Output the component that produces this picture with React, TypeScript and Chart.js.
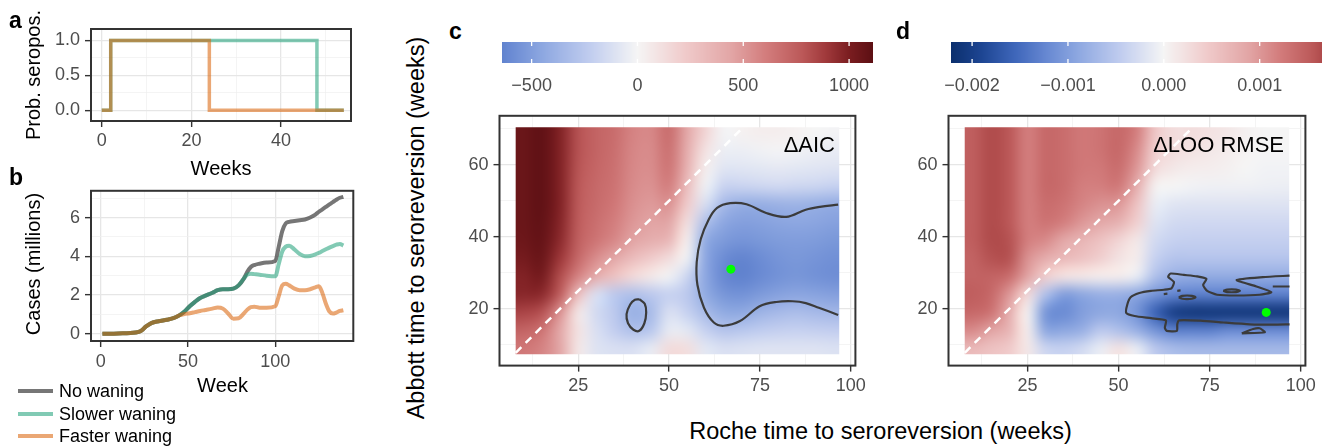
import React, { useEffect, useRef } from "react";
import { Chart, registerables } from "chart.js";

Chart.register(...registerables);

const FONT = "'Liberation Sans', Arial, Helvetica, sans-serif";

// ---------------- Panel a: probability seropositive ----------------
const weeksA = [0, 2, 24, 48, 54];
const slowerA = [0, 1, 1, 0, 0];
const fasterA = [0, 1, 0, 0, 0];
const aTicksX = [0, 20, 40];
const aMinorX = [10, 30, 50];
const aTicksY = [0, 0.5, 1];
const aMinorY = [0.25, 0.75];

// ---------------- Panel b: cumulative cases (millions) ----------------
const weeksB = [1, 10, 20, 23, 26, 29, 33, 38, 42, 45, 48, 51, 54, 57, 60, 64, 67, 70, 73, 76, 79, 82, 84, 86, 88, 91, 95, 100, 102, 104, 106, 108, 111, 114, 117, 120, 123, 125, 127, 129, 131, 133, 135, 137, 139];
const noWaningB = [0, 0.02, 0.07, 0.15, 0.38, 0.55, 0.65, 0.73, 0.82, 0.95, 1.15, 1.42, 1.65, 1.85, 1.97, 2.12, 2.25, 2.3, 2.3, 2.33, 2.5, 2.85, 3.2, 3.45, 3.55, 3.62, 3.68, 3.76, 4.5, 5.3, 5.7, 5.78, 5.82, 5.86, 5.9, 6.0, 6.15, 6.3, 6.42, 6.55, 6.68, 6.8, 6.92, 7.02, 7.07];
const slowerB = [0, 0.02, 0.07, 0.15, 0.38, 0.55, 0.65, 0.73, 0.82, 0.95, 1.15, 1.42, 1.65, 1.85, 1.97, 2.12, 2.25, 2.3, 2.3, 2.33, 2.5, 2.85, 3.05, 3.1, 3.08, 3.05, 3.0, 2.97, 3.6, 4.25, 4.5, 4.55, 4.35, 4.12, 4.0, 4.02, 4.1, 4.18, 4.27, 4.36, 4.45, 4.53, 4.6, 4.64, 4.55];
const fasterB = [0, 0.02, 0.07, 0.15, 0.38, 0.55, 0.65, 0.73, 0.82, 0.95, 1.02, 1.06, 1.12, 1.18, 1.23, 1.3, 1.36, 1.3, 1.05, 0.78, 0.8, 1.05, 1.25, 1.38, 1.4, 1.35, 1.35, 1.42, 1.95, 2.5, 2.58, 2.5, 2.33, 2.25, 2.25, 2.3, 2.4, 2.45, 2.1, 1.55, 1.15, 1.05, 1.1, 1.18, 1.22];
const bTicksX = [0, 50, 100];
const bMinorX = [25, 75, 125];
const bTicksY = [0, 2, 4, 6];
const bMinorY = [1, 3, 5, 7];

const seriesNames = ["No waning", "Slower waning", "Faster waning"];
const seriesColors = ["rgba(60,60,60,0.7)", "rgba(27,158,119,0.55)", "rgba(217,95,2,0.55)"];
const legendSwatch = ["#767676", "#81cab4", "#eaa774"];

// ---------------- Panels c & d: heatmaps ----------------
const rocheWeeks = [10, 15, 20, 25, 30, 35, 40, 45, 50, 55, 60, 65, 70, 75, 80, 85, 90, 95];
const abbottWeeks = [69, 64, 59, 54, 49, 44, 39, 34, 29, 24, 19, 14, 9];
const heatRocheRange = [7.8, 96.8];
const heatAbbottRange = [7.4, 70.4];
const identityLine = [7.8, 70.4];

// ΔAIC (rows = abbottWeeks, columns = rocheWeeks)
const deltaAIC = [
  [1060, 1100, 980, 800, 720, 680, 580, 560, 680, 430, 170, -10, 20, 40, 40, 20, 0, -10],
  [1060, 1100, 980, 800, 720, 670, 570, 550, 660, 400, 100, -40, -40, -20, -10, -20, -40, -50],
  [1060, 1100, 980, 790, 710, 660, 560, 540, 640, 370, 40, -90, -90, -80, -70, -80, -90, -100],
  [1060, 1100, 980, 780, 700, 650, 550, 520, 600, 300, -30, -190, -190, -170, -160, -170, -180, -200],
  [1060, 1100, 980, 770, 690, 630, 530, 490, 520, 220, -130, -340, -410, -410, -390, -380, -400, -420],
  [1060, 1090, 970, 760, 670, 600, 500, 450, 440, 120, -300, -450, -490, -480, -460, -450, -460, -480],
  [1050, 1080, 950, 740, 640, 560, 450, 390, 340, 40, -430, -520, -550, -530, -510, -500, -510, -530],
  [1020, 1060, 900, 700, 540, 430, 310, 220, 130, -30, -450, -590, -630, -590, -550, -530, -550, -570],
  [980, 1020, 820, 580, 400, 270, 150, 70, -20, -180, -450, -610, -640, -600, -560, -540, -560, -580],
  [960, 950, 750, 300, -120, -250, -300, -250, -200, -250, -430, -540, -560, -520, -480, -460, -470, -490],
  [850, 800, 520, 80, -150, -250, -400, -330, -120, -200, -330, -430, -440, -380, -340, -320, -340, -360],
  [720, 650, 430, 100, -120, -220, -300, -260, -60, -80, -200, -280, -260, -230, -210, -200, -210, -220],
  [630, 580, 440, 80, -100, -120, -120, -60, 140, 120, -80, -120, -110, -100, -100, -100, -100, -110],
];
const aicLimit = 1113;
const aicBarRange = [-640, 1113];
const aicBreaks = [-500, 0, 500, 1000];

// ΔLOO RMSE in units of 1e-4 (rows = abbottWeeks, columns = rocheWeeks)
const looUnit = 1e-4;
const deltaLooRmse = [
  [15, 16.5, 15.5, 12, 14, 13.5, 12.5, 13, 14, 12, 5, 2.5, 2.5, 2, 1.5, 0.5, 0, 0],
  [15, 16.5, 15.5, 12, 14, 13.5, 12.5, 13, 14, 11, 4, 2.5, 2, 1.5, 1, 0.3, 0, 0],
  [15, 16.5, 15.5, 12, 14, 13.5, 12.5, 12.5, 13.5, 10, 3, 1.5, 1, 0.8, 0.5, 0, -0.3, -0.3],
  [15, 16.5, 15.5, 12, 14, 13.5, 12, 12, 12.5, 8, 0.5, 0, -0.3, -0.5, -0.5, -0.5, -0.7, -0.8],
  [15, 16.5, 15.5, 12, 13.5, 13, 11.5, 10.5, 10, 5.5, -1, -1.8, -2, -2, -2, -2, -2, -2],
  [15, 16.5, 15.5, 12, 13, 12, 10, 8.5, 7.5, 4, -2, -3, -3.2, -3.2, -3.2, -3.2, -3.2, -3.2],
  [15, 16.5, 16, 12, 11, 8.5, 7, 5.5, 3.5, 1.5, -3, -4, -4.2, -4.2, -4.2, -4.2, -4.2, -4.2],
  [14.5, 16, 16, 10.5, 8, 6.5, 5.5, 4, 2, 1, -4, -5.5, -5.5, -5.5, -5.5, -5.5, -5.5, -5.5],
  [14.5, 14.5, 13.5, 9, 4, 2, 1.5, 1, 1, -1, -6, -8, -8.5, -8.5, -8.5, -8.5, -8.5, -8.5],
  [15, 14, 10, 3, -6, -10, -9, -8, -8, -9, -11, -12.5, -13, -13, -13, -13, -13, -13],
  [14, 13, 8, 0.5, -11, -12, -10, -9, -9, -11, -16, -20, -21, -21, -21, -21, -21, -21],
  [11, 9, 7, 1, -9, -9, -8, -5, -6, -8, -11, -13, -13, -13, -12, -12, -12, -12],
  [6.5, 5.5, 4.5, 1.5, -3.5, -4, -3, -1, 2, -1, -5, -6.5, -7, -7, -7, -7, -7, -7],
];
const looLimit = 0.00222;
const looBarRange = [-0.00222, 0.00165];
const looBreaks = [-0.002, -0.001, 0, 0.001];

// contour lines (Roche week, Abbott week)
const aicContourMainX = [96.5, 91.5, 87.6, 82.2, 76.7, 71.3, 66.8, 63.2, 60.9, 58.7, 57.6, 57.8, 59.6, 62.3, 65, 69.5, 74.9, 79.5, 84, 87.6, 91.2, 96.5];
const aicContourMainY = [48.9, 48.3, 47.5, 45.5, 46.6, 49.0, 49.3, 48, 44.8, 39.3, 33, 26.6, 20.3, 16.2, 15.3, 16.6, 20.7, 21.9, 22.1, 21.6, 20.3, 18.3];
const aicContourSmallX = [41.9, 43.3, 43.7, 43.2, 41.8, 40.2, 38.7, 38.3, 39.3, 40.6, 41.9];
const aicContourSmallY = [22.6, 21.4, 19, 16, 13.9, 14.2, 16, 18.5, 21.2, 22.5, 22.6];
const aicBest = { x: 67, y: 31 };

const looContourMainX = [96.9, 89.6, 82.4, 87.8, 91.9, 88.7, 82.4, 77.0, 74.3, 73.2, 74.1, 71.5, 67.9, 64.3, 63.6, 65.2, 64.5, 62.5, 58.9, 55.7, 53.3, 52.4, 52.1, 54.4, 58.9, 63.0, 62.7, 63.2, 66.0, 66.1, 66.6, 72.5, 78.8, 86.0, 92.3, 96.9];
const looContourMainY = [29.2, 28.8, 28.0, 26.2, 24.6, 23.9, 23.7, 23.9, 25.0, 26.6, 28.3, 29.0, 29.4, 29.8, 28.9, 27.4, 25.7, 25.3, 25.0, 24.4, 23.2, 21.2, 18.9, 18.0, 17.4, 16.8, 14.8, 13.9, 13.9, 15.7, 16.8, 16.7, 16.2, 15.7, 15.6, 15.7];
const looIsland1X = [66.5, 67.5, 68.8, 70.1, 71.1, 70.1, 68.8, 67.5, 66.5];
const looIsland1Y = [23.2, 23.6, 23.7, 23.6, 23.2, 22.8, 22.7, 22.8, 23.2];
const looIsland2X = [78.7, 79.8, 81, 82.2, 83.3, 82.2, 81, 79.8, 78.7];
const looIsland2Y = [25, 25.35, 25.4, 25.35, 25, 24.65, 24.6, 24.65, 25];
const looDash1X = [62.4, 63.4];
const looDash1Y = [24.1, 24.2];
const looDash2X = [66.1, 67.0];
const looDash2Y = [25.0, 25.1];
const looDash3X = [92.3, 96.9];
const looDash3Y = [26.2, 26.2];
const looTriangleX = [83.8, 86.9, 88.7, 90.1, 83.8];
const looTriangleY = [13.2, 14.4, 14.6, 13.5, 13.2];
const looBest = { x: 90.5, y: 19 };

const heatTicksX = [25, 50, 75, 100];
const heatMinorX = [12.5, 37.5, 62.5, 87.5];
const heatTicksY = [20, 40, 60];
const heatMinorY = [10, 30, 50, 70];

// ---------------- colour palette ----------------
const paletteStops: [number, string][] = [
  [-1.0, "#0b2f6d"], [-0.85, "#1e4694"], [-0.7, "#3e66ba"], [-0.55, "#6788d2"], [-0.4, "#8ea8e1"],
  [-0.2, "#c1cdef"], [0, "#f5f5f5"], [0.2, "#f0cbcb"], [0.4, "#e2a5a5"], [0.55, "#d27b7b"],
  [0.7, "#bb5858"], [0.8, "#a0393b"], [0.9, "#7a1d20"], [1.0, "#5c0f13"],
];
function hexRgb(h: string) {
  return [parseInt(h.slice(1, 3), 16), parseInt(h.slice(3, 5), 16), parseInt(h.slice(5, 7), 16)];
}
function paletteRGB(t: number) {
  const tt = Math.max(-1, Math.min(1, t));
  for (let i = 0; i < paletteStops.length - 1; i++) {
    const [t0, c0] = paletteStops[i];
    const [t1, c1] = paletteStops[i + 1];
    if (tt >= t0 && tt <= t1) {
      const f = (tt - t0) / (t1 - t0);
      const a = hexRgb(c0), b = hexRgb(c1);
      return [0, 1, 2].map((k) => Math.round(a[k] + (b[k] - a[k]) * f));
    }
  }
  return hexRgb(paletteStops[paletteStops.length - 1][1]);
}

// ---------------- helpers ----------------
function makeAxis(o: any) {
  const { min, max, major, minor, fmt, size, horizontal, padding } = o;
  const isMajor = (v: any) => v !== undefined && major.some((m: number) => Math.abs(m - v) < 1e-9);
  return {
    type: "linear",
    position: horizontal ? "bottom" : "left",
    min, max, bounds: "data",
    afterBuildTicks: (s: any) => {
      s.ticks = [...major, ...minor].sort((a: number, b: number) => a - b).map((v: number) => ({ value: v }));
    },
    afterFit: (s: any) => {
      if (horizontal) s.height = size; else s.width = size;
    },
    grid: {
      display: true, drawOnChartArea: true, drawTicks: true, tickLength: 6,
      color: (c: any) => (isMajor(c.tick && c.tick.value) ? "#e6e6e6" : "#efefef"),
      lineWidth: (c: any) => (isMajor(c.tick && c.tick.value) ? 1.3 : 0.7),
      tickColor: (c: any) => (isMajor(c.tick && c.tick.value) ? "#333333" : "rgba(0,0,0,0)"),
      tickWidth: 1.4,
    },
    border: { display: false },
    ticks: {
      autoSkip: false, maxRotation: 0, minRotation: 0, padding,
      color: "#4d4d4d", font: { family: FONT, size: 18 },
      callback: (v: any) => (isMajor(v) ? fmt(v) : ""),
    },
  };
}

const panelBox = {
  id: "panelBox",
  afterDraw(chart: any) {
    const { ctx, chartArea: a } = chart;
    ctx.save();
    ctx.strokeStyle = "#333333";
    ctx.lineWidth = 2;
    ctx.strokeRect(a.left, a.top, a.right - a.left, a.bottom - a.top);
    ctx.restore();
  },
};

function heatmapPlugin(values: number[][], unit: number, limit: number) {
  return {
    id: "heatmap",
    beforeDatasetsDraw(chart: any) {
      const { ctx } = chart;
      const xs = chart.scales.x, ys = chart.scales.y;
      const nx = rocheWeeks.length, ny = abbottWeeks.length;
      const off = document.createElement("canvas");
      off.width = nx; off.height = ny;
      const octx = off.getContext("2d")!;
      const img = octx.createImageData(nx, ny);
      for (let j = 0; j < ny; j++) {
        for (let i = 0; i < nx; i++) {
          const [r, g, b] = paletteRGB((values[j][i] * unit) / limit);
          const k = (j * nx + i) * 4;
          img.data[k] = r; img.data[k + 1] = g; img.data[k + 2] = b; img.data[k + 3] = 255;
        }
      }
      octx.putImageData(img, 0, 0);
      const dx = rocheWeeks[1] - rocheWeeks[0];
      const dy = abbottWeeks[0] - abbottWeeks[1];
      const x0 = xs.getPixelForValue(rocheWeeks[0] - dx / 2);
      const x1 = xs.getPixelForValue(rocheWeeks[nx - 1] + dx / 2);
      const y0 = ys.getPixelForValue(abbottWeeks[0] + dy / 2);
      const y1 = ys.getPixelForValue(abbottWeeks[ny - 1] - dy / 2);
      const cx0 = xs.getPixelForValue(heatRocheRange[0]);
      const cx1 = xs.getPixelForValue(heatRocheRange[1]);
      const cy0 = ys.getPixelForValue(heatAbbottRange[1]);
      const cy1 = ys.getPixelForValue(heatAbbottRange[0]);
      ctx.save();
      ctx.beginPath();
      ctx.rect(cx0, cy0, cx1 - cx0, cy1 - cy0);
      ctx.clip();
      ctx.imageSmoothingEnabled = true;
      (ctx as any).imageSmoothingQuality = "high";
      ctx.drawImage(off, x0, y0, x1 - x0, y1 - y0);
      ctx.restore();
    },
  };
}

function colorbarPlugin(limit: number, breaks: number[]) {
  return {
    id: "colorbar",
    beforeDraw(chart: any) {
      const { ctx, chartArea: a } = chart;
      const xs = chart.scales.x;
      for (let px = Math.floor(a.left); px < Math.ceil(a.right); px++) {
        const v = xs.getValueForPixel(px + 0.5);
        const [r, g, b] = paletteRGB(v / limit);
        ctx.fillStyle = `rgb(${r},${g},${b})`;
        ctx.fillRect(px, a.top, 1, a.bottom - a.top);
      }
      ctx.save();
      ctx.strokeStyle = "#ffffff";
      ctx.lineWidth = 1.3;
      breaks.forEach((bv) => {
        const p = xs.getPixelForValue(bv);
        ctx.beginPath();
        ctx.moveTo(p, a.top); ctx.lineTo(p, a.top + 4);
        ctx.moveTo(p, a.bottom - 4); ctx.lineTo(p, a.bottom);
        ctx.stroke();
      });
      ctx.restore();
    },
  };
}

const baseOptions = (padding: any) => ({
  animation: false,
  responsive: false,
  devicePixelRatio: 1,
  layout: { padding, autoPadding: false },
  plugins: { legend: { display: false }, tooltip: { enabled: false } },
});

const minusFmt = (v: number) => (v < 0 ? "\u2212" + Math.abs(v) : String(v));
const minusFmt3 = (v: number) => (v < 0 ? "\u2212" + Math.abs(v).toFixed(3) : v.toFixed(3));

function configA() {
  return {
    type: "scatter",
    data: {
      datasets: [
        { data: weeksA.map((x, i) => ({ x, y: fasterA[i] })), showLine: true, stepped: "before", borderColor: seriesColors[2], borderWidth: 3.5, pointRadius: 0, order: 0 },
        { data: weeksA.map((x, i) => ({ x, y: slowerA[i] })), showLine: true, stepped: "before", borderColor: seriesColors[1], borderWidth: 3.5, pointRadius: 0, order: 1 },
      ],
    },
    options: {
      ...baseOptions({ left: 0, top: 29, right: 9, bottom: 0 }),
      scales: {
        x: makeAxis({ min: -2.4, max: 55.6, major: aTicksX, minor: aMinorX, fmt: String, size: 57, horizontal: true, padding: 3 }),
        y: makeAxis({ min: -0.155, max: 1.163, major: aTicksY, minor: aMinorY, fmt: (v: number) => v.toFixed(1), size: 91, horizontal: false, padding: 5 }),
      },
    },
    plugins: [panelBox],
  };
}

function configB() {
  const series = [noWaningB, slowerB, fasterB];
  return {
    type: "scatter",
    data: {
      datasets: series.map((s, k) => ({
        label: seriesNames[k],
        data: weeksB.map((x, i) => ({ x, y: s[i] })),
        showLine: true, borderColor: seriesColors[k], borderWidth: 4, pointRadius: 0,
        cubicInterpolationMode: "monotone", order: 2 - k,
      })),
    },
    options: {
      ...baseOptions({ left: 0, top: 12.3, right: 11.7, bottom: 0 }),
      scales: {
        x: makeAxis({ min: -5.55, max: 144.7, major: bTicksX, minor: bMinorX, fmt: String, size: 34, horizontal: true, padding: 4 }),
        y: makeAxis({ min: -0.37, max: 7.38, major: bTicksY, minor: bMinorY, fmt: String, size: 91, horizontal: false, padding: 5 }),
      },
    },
    plugins: [panelBox],
  };
}

function configBar(range: number[], limit: number, breaks: number[], fmt: any, padL: number, padR: number) {
  return {
    type: "scatter",
    data: { datasets: [] },
    options: {
      ...baseOptions({ left: padL, top: 12, right: padR, bottom: 0 }),
      scales: {
        x: {
          type: "linear", min: range[0], max: range[1], bounds: "data",
          afterBuildTicks: (s: any) => { s.ticks = breaks.map((v) => ({ value: v })); },
          afterFit: (s: any) => { s.height = 42; },
          grid: { display: false, drawTicks: false },
          border: { display: false },
          ticks: { autoSkip: false, maxRotation: 0, minRotation: 0, padding: 12, color: "#4d4d4d", font: { family: FONT, size: 18 }, callback: (v: any) => fmt(v) },
        },
        y: { display: false, min: 0, max: 1 },
      },
    },
    plugins: [colorbarPlugin(limit, breaks)],
  };
}

function configHeat(values: number[][], unit: number, limit: number, contours: number[][][], best: any, tension: number, yWidth: number, padR: number) {
  return {
    type: "scatter",
    data: {
      datasets: [
        { data: [best], pointRadius: 4.5, pointBackgroundColor: "#00ff00", pointBorderWidth: 0, order: 0 },
        ...contours.map(([cx, cy]) => ({
          data: cx.map((x, i) => ({ x, y: cy[i] })), showLine: true, borderColor: "#3b3b3b",
          borderWidth: 2.2, pointRadius: 0, tension, order: 1,
        })),
        {
          data: identityLine.map((v) => ({ x: v, y: v })), showLine: true, borderColor: "#ffffff",
          borderWidth: 2.5, borderDash: [8, 6], pointRadius: 0, order: 2,
        },
      ],
    },
    options: {
      ...baseOptions({ left: 0, top: 11.3, right: padR, bottom: 0 }),
      scales: {
        x: makeAxis({ min: 3.35, max: 101.25, major: heatTicksX, minor: heatMinorX, fmt: String, size: 44.4, horizontal: true, padding: 4 }),
        y: makeAxis({ min: 4.25, max: 73.55, major: heatTicksY, minor: heatMinorY, fmt: String, size: yWidth, horizontal: false, padding: 5 }),
      },
    },
    plugins: [heatmapPlugin(values, unit, limit), panelBox],
  };
}

function ChartCanvas({ left, top, width, height, make }: any) {
  const ref = useRef<HTMLCanvasElement>(null);
  useEffect(() => {
    const chart = new Chart(ref.current as any, make() as any);
    return () => chart.destroy();
  }, []);
  return (
    <canvas ref={ref} width={width} height={height}
      style={{ position: "absolute", left, top, width, height }} />
  );
}

function Txt({ x, y, size, children, bold, rotate, anchor }: any) {
  const tx = anchor === "start" ? "0" : anchor === "end" ? "-100%" : "-50%";
  return (
    <div style={{
      position: "absolute", left: x, top: y, fontSize: size, lineHeight: 1, fontFamily: FONT,
      fontWeight: bold ? 700 : 400, color: "#000", whiteSpace: "nowrap",
      transform: `translate(${tx}, -50%)${rotate ? ` rotate(${rotate}deg)` : ""}`,
    }}>{children}</div>
  );
}

export default function App() {
  useEffect(() => {
    document.body.style.margin = "0";
  }, []);
  return (
    <div style={{ position: "absolute", left: 0, top: 0, width: 1330, height: 446, background: "#fff", overflow: "hidden", fontFamily: FONT }}>
      <ChartCanvas left={0} top={0} width={360} height={178} make={configA} />
      <ChartCanvas left={0} top={175} width={365} height={200} make={configB} />
      <ChartCanvas left={470} top={30} width={430} height={75}
        make={() => configBar(aicBarRange, aicLimit, aicBreaks, minusFmt, 32, 27)} />
      <ChartCanvas left={900} top={30} width={430} height={75}
        make={() => configBar(looBarRange, looLimit, looBreaks, minusFmt3, 51, 8)} />
      <ChartCanvas left={430} top={100} width={440} height={310}
        make={() => configHeat(deltaAIC, 1, aicLimit, [[aicContourMainX, aicContourMainY], [aicContourSmallX, aicContourSmallY]], aicBest, 0.35, 69.5, 9.7)} />
      <ChartCanvas left={880} top={100} width={440} height={310}
        make={() => configHeat(deltaLooRmse, looUnit, looLimit, [[looContourMainX, looContourMainY], [looIsland1X, looIsland1Y], [looIsland2X, looIsland2Y], [looDash1X, looDash1Y], [looDash2X, looDash2Y], [looDash3X, looDash3Y], [looTriangleX, looTriangleY]], looBest, 0.2, 68.5, 10.7)} />

      {/* panel letters */}
      <Txt x={9} y={19.5} size={23} bold anchor="start">a</Txt>
      <Txt x={9} y={177} size={23} bold anchor="start">b</Txt>
      <Txt x={449} y={31} size={23} bold anchor="start">c</Txt>
      <Txt x={896} y={31} size={23} bold anchor="start">d</Txt>

      {/* axis titles */}
      <Txt x={33} y={75} size={20} rotate={-90}>Prob. seropos.</Txt>
      <Txt x={221} y={167.5} size={20}>Weeks</Txt>
      <Txt x={33} y={264} size={20} rotate={-90}>Cases (millions)</Txt>
      <Txt x={222.5} y={385} size={20}>Week</Txt>
      <Txt x={417} y={228} size={23.5} rotate={-90}>Abbott time to seroreversion (weeks)</Txt>
      <Txt x={880.5} y={432} size={23.5}>Roche time to seroreversion (weeks)</Txt>

      {/* annotations */}
      <Txt x={835} y={145} size={22} anchor="end">ΔAIC</Txt>
      <Txt x={1284} y={145} size={22} anchor="end">ΔLOO RMSE</Txt>

      {/* legend for panel b */}
      {seriesNames.map((name, k) => (
        <React.Fragment key={name}>
          <div style={{ position: "absolute", left: 18, top: [391, 414, 436][k] - 2, width: 35, height: 4, background: legendSwatch[k] }} />
          <Txt x={59} y={[391, 414, 436][k]} size={18} anchor="start">{name}</Txt>
        </React.Fragment>
      ))}
    </div>
  );
}
